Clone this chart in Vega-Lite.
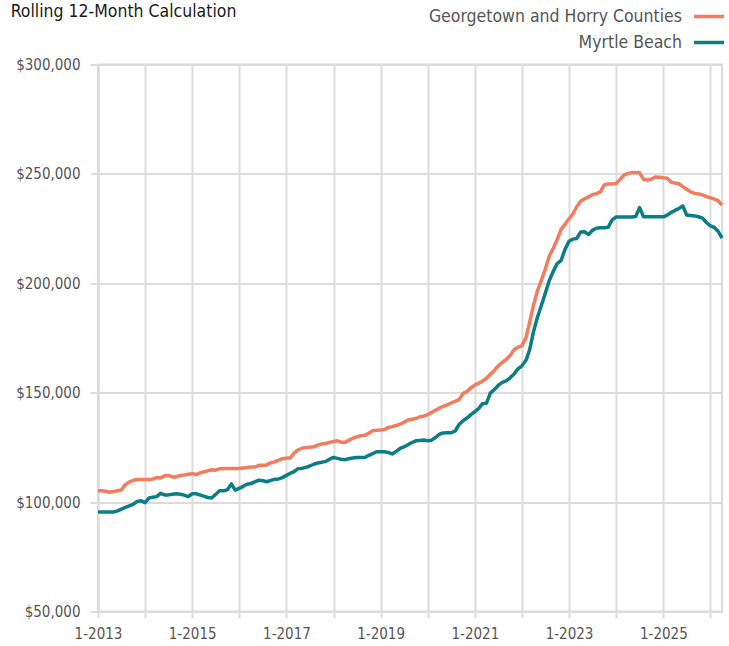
{
  "$schema": "https://vega.github.io/schema/vega-lite/v6.json",
  "width": 624,
  "height": 547,
  "autosize": {"type": "none"},
  "padding": {"left": 98, "top": 64.5, "right": 7, "bottom": 34.5},
  "background": "white",
  "title": {
    "text": "Rolling 12-Month Calculation",
    "anchor": "start",
    "frame": "bounds",
    "font": "DejaVu Sans Condensed, sans-serif",
    "fontSize": 17.5,
    "fontWeight": "normal",
    "color": "#1a1a1a",
    "offset": -9,
    "dy": 12,
    "dx": -5
  },
  "data": {
    "values": [
      {"date": "2013-01-01", "GH": 105200, "MB": 95500},
      {"date": "2013-02-01", "GH": 105200, "MB": 95500},
      {"date": "2013-03-01", "GH": 105000, "MB": 95500},
      {"date": "2013-04-01", "GH": 104500, "MB": 95500},
      {"date": "2013-05-01", "GH": 104800, "MB": 95500},
      {"date": "2013-06-01", "GH": 105200, "MB": 96000},
      {"date": "2013-07-01", "GH": 105500, "MB": 96800},
      {"date": "2013-08-01", "GH": 108000, "MB": 97600},
      {"date": "2013-09-01", "GH": 109200, "MB": 98300},
      {"date": "2013-10-01", "GH": 110000, "MB": 99000},
      {"date": "2013-11-01", "GH": 110300, "MB": 100300},
      {"date": "2013-12-01", "GH": 110300, "MB": 100600},
      {"date": "2014-01-01", "GH": 110300, "MB": 99800},
      {"date": "2014-02-01", "GH": 110300, "MB": 101900},
      {"date": "2014-03-01", "GH": 110500, "MB": 102200},
      {"date": "2014-04-01", "GH": 111200, "MB": 102500},
      {"date": "2014-05-01", "GH": 111000, "MB": 104000},
      {"date": "2014-06-01", "GH": 112000, "MB": 103300},
      {"date": "2014-07-01", "GH": 112200, "MB": 103300},
      {"date": "2014-08-01", "GH": 111500, "MB": 103600},
      {"date": "2014-09-01", "GH": 111500, "MB": 103800},
      {"date": "2014-10-01", "GH": 112200, "MB": 103600},
      {"date": "2014-11-01", "GH": 112400, "MB": 103200},
      {"date": "2014-12-01", "GH": 112700, "MB": 102500},
      {"date": "2015-01-01", "GH": 113000, "MB": 103800},
      {"date": "2015-02-01", "GH": 112600, "MB": 103800},
      {"date": "2015-03-01", "GH": 113300, "MB": 103300},
      {"date": "2015-04-01", "GH": 113800, "MB": 102700},
      {"date": "2015-05-01", "GH": 114300, "MB": 102100},
      {"date": "2015-06-01", "GH": 114800, "MB": 101900},
      {"date": "2015-07-01", "GH": 114600, "MB": 103500},
      {"date": "2015-08-01", "GH": 115200, "MB": 105200},
      {"date": "2015-09-01", "GH": 115400, "MB": 105200},
      {"date": "2015-10-01", "GH": 115400, "MB": 105600},
      {"date": "2015-11-01", "GH": 115400, "MB": 108300},
      {"date": "2015-12-01", "GH": 115400, "MB": 105500},
      {"date": "2016-01-01", "GH": 115400, "MB": 106300},
      {"date": "2016-02-01", "GH": 115600, "MB": 107200},
      {"date": "2016-03-01", "GH": 115800, "MB": 108200},
      {"date": "2016-04-01", "GH": 116000, "MB": 108500},
      {"date": "2016-05-01", "GH": 116000, "MB": 109200},
      {"date": "2016-06-01", "GH": 116800, "MB": 110000},
      {"date": "2016-07-01", "GH": 116800, "MB": 109800},
      {"date": "2016-08-01", "GH": 117000, "MB": 109300},
      {"date": "2016-09-01", "GH": 118000, "MB": 109900},
      {"date": "2016-10-01", "GH": 118400, "MB": 110400},
      {"date": "2016-11-01", "GH": 119200, "MB": 110600},
      {"date": "2016-12-01", "GH": 119800, "MB": 111200},
      {"date": "2017-01-01", "GH": 120100, "MB": 112200},
      {"date": "2017-02-01", "GH": 120100, "MB": 113200},
      {"date": "2017-03-01", "GH": 122500, "MB": 113900},
      {"date": "2017-04-01", "GH": 123800, "MB": 115300},
      {"date": "2017-05-01", "GH": 124600, "MB": 115400},
      {"date": "2017-06-01", "GH": 125000, "MB": 115900},
      {"date": "2017-07-01", "GH": 125100, "MB": 116500},
      {"date": "2017-08-01", "GH": 125300, "MB": 117300},
      {"date": "2017-09-01", "GH": 126000, "MB": 117900},
      {"date": "2017-10-01", "GH": 126600, "MB": 118200},
      {"date": "2017-11-01", "GH": 126800, "MB": 118600},
      {"date": "2017-12-01", "GH": 127300, "MB": 119600},
      {"date": "2018-01-01", "GH": 127700, "MB": 120400},
      {"date": "2018-02-01", "GH": 128000, "MB": 120000},
      {"date": "2018-03-01", "GH": 127400, "MB": 119600},
      {"date": "2018-04-01", "GH": 127300, "MB": 119400},
      {"date": "2018-05-01", "GH": 128300, "MB": 119800},
      {"date": "2018-06-01", "GH": 129200, "MB": 120200},
      {"date": "2018-07-01", "GH": 129800, "MB": 120400},
      {"date": "2018-08-01", "GH": 130300, "MB": 120400},
      {"date": "2018-09-01", "GH": 130500, "MB": 120400},
      {"date": "2018-10-01", "GH": 131500, "MB": 121400},
      {"date": "2018-11-01", "GH": 132600, "MB": 122200},
      {"date": "2018-12-01", "GH": 132800, "MB": 123000},
      {"date": "2019-01-01", "GH": 132900, "MB": 123000},
      {"date": "2019-02-01", "GH": 133200, "MB": 123000},
      {"date": "2019-03-01", "GH": 134100, "MB": 122700},
      {"date": "2019-04-01", "GH": 134500, "MB": 122000},
      {"date": "2019-05-01", "GH": 135000, "MB": 123200},
      {"date": "2019-06-01", "GH": 135600, "MB": 124500},
      {"date": "2019-07-01", "GH": 136500, "MB": 125200},
      {"date": "2019-08-01", "GH": 137500, "MB": 126200},
      {"date": "2019-09-01", "GH": 137900, "MB": 127200},
      {"date": "2019-10-01", "GH": 138200, "MB": 128000},
      {"date": "2019-11-01", "GH": 139000, "MB": 128200},
      {"date": "2019-12-01", "GH": 139300, "MB": 128400},
      {"date": "2020-01-01", "GH": 140000, "MB": 128000},
      {"date": "2020-02-01", "GH": 141000, "MB": 128300},
      {"date": "2020-03-01", "GH": 142000, "MB": 129500},
      {"date": "2020-04-01", "GH": 143000, "MB": 131000},
      {"date": "2020-05-01", "GH": 143800, "MB": 131600},
      {"date": "2020-06-01", "GH": 144400, "MB": 131700},
      {"date": "2020-07-01", "GH": 145300, "MB": 131700},
      {"date": "2020-08-01", "GH": 146000, "MB": 132500},
      {"date": "2020-09-01", "GH": 146800, "MB": 135500},
      {"date": "2020-10-01", "GH": 149700, "MB": 137200},
      {"date": "2020-11-01", "GH": 150500, "MB": 138400},
      {"date": "2020-12-01", "GH": 152200, "MB": 140000},
      {"date": "2021-01-01", "GH": 153500, "MB": 141300},
      {"date": "2021-02-01", "GH": 154400, "MB": 142900},
      {"date": "2021-03-01", "GH": 155300, "MB": 145000},
      {"date": "2021-04-01", "GH": 156600, "MB": 145200},
      {"date": "2021-05-01", "GH": 158400, "MB": 149800},
      {"date": "2021-06-01", "GH": 160200, "MB": 151500},
      {"date": "2021-07-01", "GH": 162300, "MB": 153300},
      {"date": "2021-08-01", "GH": 163800, "MB": 154700},
      {"date": "2021-09-01", "GH": 165200, "MB": 155400},
      {"date": "2021-10-01", "GH": 167000, "MB": 156800},
      {"date": "2021-11-01", "GH": 169600, "MB": 158600},
      {"date": "2021-12-01", "GH": 170800, "MB": 160900},
      {"date": "2022-01-01", "GH": 171500, "MB": 162300},
      {"date": "2022-02-01", "GH": 175000, "MB": 164800},
      {"date": "2022-03-01", "GH": 182000, "MB": 169500},
      {"date": "2022-04-01", "GH": 190000, "MB": 178000},
      {"date": "2022-05-01", "GH": 196500, "MB": 184500},
      {"date": "2022-06-01", "GH": 201500, "MB": 190000},
      {"date": "2022-07-01", "GH": 206500, "MB": 195500},
      {"date": "2022-08-01", "GH": 212500, "MB": 201300},
      {"date": "2022-09-01", "GH": 216000, "MB": 205500},
      {"date": "2022-10-01", "GH": 220000, "MB": 209000},
      {"date": "2022-11-01", "GH": 224800, "MB": 210500},
      {"date": "2022-12-01", "GH": 227000, "MB": 215500},
      {"date": "2023-01-01", "GH": 229500, "MB": 219200},
      {"date": "2023-02-01", "GH": 231800, "MB": 220200},
      {"date": "2023-03-01", "GH": 235000, "MB": 220500},
      {"date": "2023-04-01", "GH": 237500, "MB": 223400},
      {"date": "2023-05-01", "GH": 238600, "MB": 223600},
      {"date": "2023-06-01", "GH": 239500, "MB": 222300},
      {"date": "2023-07-01", "GH": 240500, "MB": 224200},
      {"date": "2023-08-01", "GH": 241000, "MB": 225200},
      {"date": "2023-09-01", "GH": 241800, "MB": 225400},
      {"date": "2023-10-01", "GH": 245000, "MB": 225400},
      {"date": "2023-11-01", "GH": 245400, "MB": 225600},
      {"date": "2023-12-01", "GH": 245400, "MB": 229000},
      {"date": "2024-01-01", "GH": 245600, "MB": 230300},
      {"date": "2024-02-01", "GH": 247500, "MB": 230300},
      {"date": "2024-03-01", "GH": 249400, "MB": 230300},
      {"date": "2024-04-01", "GH": 250200, "MB": 230300},
      {"date": "2024-05-01", "GH": 250600, "MB": 230300},
      {"date": "2024-06-01", "GH": 250600, "MB": 230500},
      {"date": "2024-07-01", "GH": 250500, "MB": 234600},
      {"date": "2024-08-01", "GH": 247500, "MB": 230400},
      {"date": "2024-09-01", "GH": 247200, "MB": 230400},
      {"date": "2024-10-01", "GH": 247600, "MB": 230400},
      {"date": "2024-11-01", "GH": 248600, "MB": 230400},
      {"date": "2024-12-01", "GH": 248500, "MB": 230400},
      {"date": "2025-01-01", "GH": 248200, "MB": 230400},
      {"date": "2025-02-01", "GH": 248000, "MB": 231200},
      {"date": "2025-03-01", "GH": 246300, "MB": 232300},
      {"date": "2025-04-01", "GH": 245800, "MB": 233300},
      {"date": "2025-05-01", "GH": 245500, "MB": 234100},
      {"date": "2025-06-01", "GH": 244200, "MB": 235400},
      {"date": "2025-07-01", "GH": 243000, "MB": 231200},
      {"date": "2025-08-01", "GH": 241800, "MB": 231000},
      {"date": "2025-09-01", "GH": 241100, "MB": 230800},
      {"date": "2025-10-01", "GH": 240800, "MB": 230400},
      {"date": "2025-11-01", "GH": 240400, "MB": 229800},
      {"date": "2025-12-01", "GH": 239600, "MB": 227800},
      {"date": "2026-01-01", "GH": 239100, "MB": 226200},
      {"date": "2026-02-01", "GH": 238500, "MB": 225500},
      {"date": "2026-03-01", "GH": 237800, "MB": 223800},
      {"date": "2026-04-01", "GH": 235800, "MB": 220600}
    ]
  },
  "transform": [{"fold": ["GH", "MB"], "as": ["series", "value"]}],
  "mark": {"type": "line", "strokeWidth": 3.5, "strokeJoin": "round", "strokeCap": "butt"},
  "encoding": {
    "x": {
      "field": "date",
      "type": "temporal",
      "scale": {
        "type": "utc",
        "nice": false,
        "domain": [
          {"year": 2013, "month": 1, "date": 1, "utc": true},
          {"year": 2026, "month": 4, "date": 1, "utc": true}
        ]
      },
      "axis": {
        "title": null,
        "tickCount": {"interval": "year", "step": 1},
        "labelExpr": "utcyear(datum.value) % 2 == 1 ? '1-' + utcyear(datum.value) : ''",
        "labelOverlap": false,
        "labelFlush": false,
        "tickSize": 6,
        "labelPadding": 9
      }
    },
    "y": {
      "field": "value",
      "type": "quantitative",
      "scale": {"domain": [50000, 300000], "nice": false, "zero": false},
      "axis": {
        "title": null,
        "values": [50000, 100000, 150000, 200000, 250000, 300000],
        "format": "$,.0f",
        "tickSize": 8,
        "labelPadding": 10
      }
    },
    "color": {
      "field": "series",
      "type": "nominal",
      "scale": {"domain": ["GH", "MB"], "range": ["#f47b5e", "#0b7d86"]},
      "legend": {
        "title": null,
        "orient": "none",
        "legendX": 594,
        "legendY": -65,
        "direction": "vertical",
        "symbolType": "stroke",
        "symbolSize": 900,
        "symbolStrokeWidth": 3.5,
        "labelAlign": "right",
        "labelOffset": -44,
        "labelFontSize": 17.5,
        "labelFont": "DejaVu Sans Condensed, sans-serif",
        "labelColor": "#555555",
        "labelLimit": 500,
        "rowPadding": -3.5,
        "padding": 0,
        "labelExpr": "datum.value == 'GH' ? 'Georgetown and Horry Counties' : 'Myrtle Beach'"
      }
    }
  },
  "config": {
    "view": {"stroke": "#dcdcdc", "strokeWidth": 2},
    "axis": {
      "grid": true,
      "gridColor": "#dcdcdc",
      "gridWidth": 2,
      "domainColor": "#dcdcdc",
      "domainWidth": 2,
      "tickColor": "#dcdcdc",
      "tickWidth": 2,
      "labelColor": "#555555",
      "labelFont": "DejaVu Sans Condensed, sans-serif",
      "labelFontSize": 15
    }
  }
}
